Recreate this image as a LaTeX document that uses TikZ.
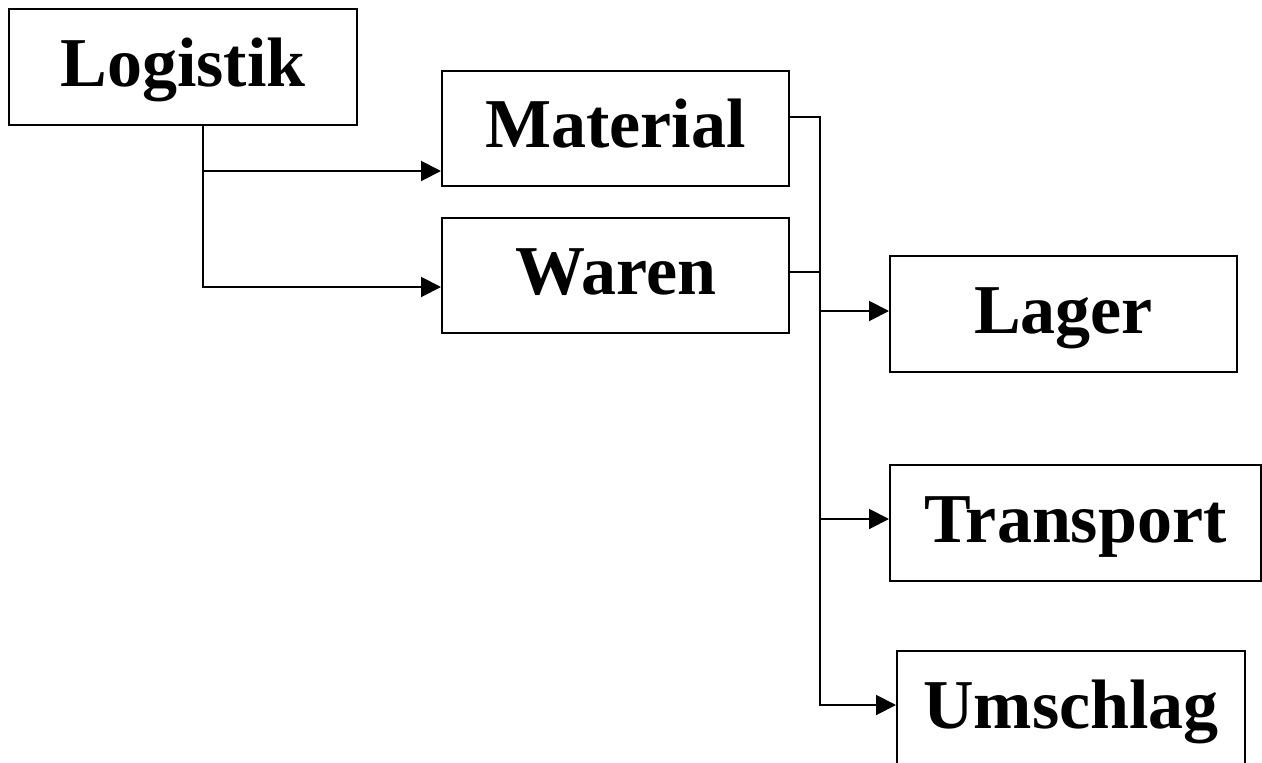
\documentclass[tikz,border=0pt]{standalone}
\usepackage{fontspec}
\setmainfont{Liberation Serif}
\usetikzlibrary{arrows.meta}
\begin{document}
\begin{tikzpicture}[x=1pt,y=-1pt,
  box/.style={draw,line width=2pt,inner sep=0pt,minimum height=116pt,
    font=\fontsize{70}{84}\selectfont\bfseries,text height=50pt,text depth=12pt},
  link/.style={line width=2pt},
  arr/.style={link,-{Triangle[length=20pt,width=20pt]}}]
\useasboundingbox (0,0) rectangle (1262,763);
\fill[white] (0,0) rectangle (1262,763);
\clip (0,0) rectangle (1262,763);

% boxes
\node[box,minimum width=348pt] (logistik)  at (183,67)     {Logistik};
\node[box,minimum width=347pt,minimum height=115pt] (material) at (615.5,128.5) {Material};
\node[box,minimum width=347pt,minimum height=115pt] (waren)    at (615.5,275.5) {Waren};
\node[box,minimum width=347pt] (lager)     at (1063.5,314) {Lager};
\node[box,minimum width=371pt] (transport) at (1075.5,523) {Transport};
\node[box,minimum width=348pt] (umschlag)  at (1071,709)   {Umschlag};

% Logistik branches
\draw[arr] (logistik.south -| 203,0) |- (material.west |- 0,171);
\draw[arr] (logistik.south -| 203,0) |- (waren.west |- 0,287);

% bus from Material and Waren to the three areas
\coordinate (bus) at (820,117);
\draw[arr] (material.east |- bus) -- (bus) -- (820,705) -- (umschlag.west |- 0,705);
\draw[link] (waren.east |- 0,272) -- (820,272);
\draw[arr] (820,311) -- (lager.west |- 0,311);
\draw[arr] (820,519) -- (transport.west |- 0,519);
\end{tikzpicture}
\end{document}
